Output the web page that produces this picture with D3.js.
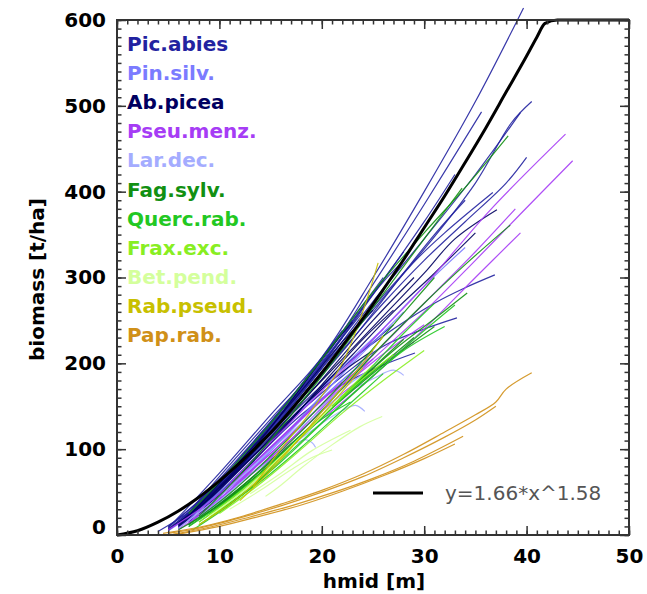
<!DOCTYPE html>
<html>
<head>
<meta charset="utf-8">
<script src="https://cdn.jsdelivr.net/npm/d3@7"></script>
<style>
  body { margin: 0; background: #fff; }
  text { font-family: "DejaVu Sans", sans-serif; }
</style>
</head>
<body>
<svg id="chart"></svg>
<script>
// species names as shown in the legend, and their colours
var species = ["Pic.abies", "Pin.silv.", "Ab.picea", "Pseu.menz.", "Lar.dec.", "Fag.sylv.",
               "Querc.rab.", "Frax.exc.", "Bet.pend.", "Rab.pseud.", "Pap.rab."];
var colors = ["#2222a0", "#7b7bff", "#000060", "#a63cf5", "#a4acff", "#129012",
              "#22c822", "#88ee22", "#d4ff9c", "#c8c000", "#d09018"];

// stand curves, [hmid, biomass]
var picAbies = [
  [[5,8],[10,72],[15,140],[20,207],[25,300],[30,400],[35,505],[39.7,614]],
  [[6,12],[10,68],[15,135],[20,202],[25,292],[30,385],[35.6,493]],
  [[7,20],[10,55],[15,120],[20,190],[25,265],[30,333],[35,410],[38.5,480],[40.5,505]],
  [[6,10],[10,58],[15,125],[20,195],[25,272],[30,345],[35,420],[39.4,492]],
  [[5,6],[10,60],[15,128],[20,198],[25,280],[30,365],[33,420]],
  [[6,8],[10,62],[15,130],[20,200],[24,265],[28,330]],
  [[5,5],[9,45],[13,95],[17,150],[21,208],[25,262],[29,318],[32,352],[36.7,399]],
  [[7,15],[11,60],[15,110],[19,160],[23,205],[27,240],[31,270],[34,288],[36.9,303]],
  [[6,10],[10,55],[14,100],[18,145],[22,185],[26,220],[30,240],[33.2,253]],
  [[6,8],[10,50],[14,95],[18,140],[22,175],[26,198],[29.1,212]],
  [[5,10],[9,50],[13,100],[17,155],[21,215],[24,260]],
  [[6,12],[10,65],[14,118],[18,175],[22,235],[26,295],[28,320]],
  [[8,30],[12,80],[16,140],[20,205],[23,250]],
  [[4,4],[8,35],[12,80],[16,135],[20,195]],
  [[7,18],[11,65],[15,118],[19,172],[23,228],[27,290],[31,350],[34,390]],
  [[6,10],[10,55],[14,105],[18,160],[22,215],[26,270],[30,320],[34,365],[38,410],[40,440]],
  [[9,40],[13,90],[17,140],[21,185],[25,225],[27,245]],
  [[5,9],[8,40],[11,76],[14,118],[17,160],[20,206],[23,250]],
  [[6,14],[9,48],[12,86],[15,130],[18,175],[21,222],[24,268],[26,300]],
  [[7,22],[10,60],[13,100],[16,144],[19,190],[22,238]],
  [[5,7],[8,36],[11,70],[14,110],[17,152],[20,198],[22,230]]
];
var pinSilv = [
  [[6,8],[10,50],[14,95],[18,145],[22,195],[26,240]],
  [[7,12],[11,55],[15,100],[19,150],[23,200],[28,260]],
  [[5,5],[9,38],[13,80],[17,125],[21,170],[24,200]],
  [[8,20],[12,62],[16,110],[20,162],[24,215],[30,290],[34,335]],
  [[9,30],[13,75],[17,122],[21,170],[25,210]]
];
var abPicea = [
  [[6,8],[10,55],[14,105],[18,155],[22,205],[26,255],[30,305],[33,345],[37.1,379]],
  [[7,12],[11,58],[15,108],[19,160],[23,210],[27,260],[31,305],[35,352]],
  [[5,6],[9,42],[13,88],[17,140],[21,195],[25,250],[29,300]],
  [[8,25],[12,70],[16,120],[20,175],[24,228],[27,262]],
  [[6,10],[10,60],[14,112],[18,168],[22,225],[25,262]],
  [[10,55],[14,100],[18,148],[22,190],[25,215]],
  [[6,12],[9,45],[12,82],[15,125],[18,172],[21,220],[23,248]]
];
var pseuMenz = [
  [[11,60],[15,108],[20,168],[25,228],[30,290],[36.4,378],[43.8,467]],
  [[12,62],[16,100],[20,148],[25,205],[30,260],[35,320],[39.4,374],[44.5,436]],
  [[10,45],[15,95],[20,152],[25,210],[30,270],[35,330],[38.9,380]],
  [[10,42],[15,88],[20,135],[25,185],[30,240],[35,300],[39.4,352]],
  [[5,6],[9,38],[13,80],[17,125],[21,168],[25,205]],
  [[6,8],[10,45],[14,90],[18,135],[22,178]],
  [[7,14],[11,52],[15,95],[19,140],[23,182],[27,220],[30,245]],
  [[6,6],[10,40],[14,80],[18,122],[22,165],[26,200],[29,225]]
];
var larDec = [
  [[8,20],[12,55],[16,95],[20,130],[22,145],[23.3,151],[24.2,144]],
  [[7,12],[10,40],[13,70],[16,95],[18.3,111],[19,108],[19.4,102]],
  [[9,30],[13,70],[17,115],[21,155],[25,182],[27,192],[28,186]],
  [[6,8],[10,45],[14,88],[18,130],[22,170],[25,195]]
];
var fagSylv = [
  [[7,25],[10,62],[15,130],[20,205],[25,283],[30,352],[33.8,402],[38.2,465]],
  [[8,22],[12,70],[16,125],[20,185],[25,265],[30,345],[33.7,404]],
  [[8,18],[12,55],[16,98],[20,145],[25,210],[30,270],[34,315],[38.4,361]],
  [[7,10],[11,45],[15,85],[19,128],[23,172],[27,215],[31,252],[34.2,282]],
  [[6,6],[10,35],[14,72],[18,115],[22,160],[26,200],[29,230]],
  [[9,25],[13,62],[17,105],[21,150],[25,195],[28,228]],
  [[7,12],[11,48],[15,92],[19,140],[23,190],[27,245],[31,300]],
  [[10,35],[14,72],[18,115],[22,158],[26,198],[31,243]]
];
var quercRab = [
  [[8,12],[12,45],[16,85],[20,130],[24,175],[28,215],[32,243]],
  [[7,10],[11,42],[15,82],[19,125],[23,170],[27,210]],
  [[9,20],[13,55],[17,98],[21,142],[25,185],[29,228],[33,268]],
  [[10,28],[14,62],[18,102],[22,145],[26,188]],
  [[8,15],[12,50],[16,92],[20,138],[24,185],[28,235],[31,270]],
  [[7.4,6],[11,35],[14,65],[17.6,112],[20,135],[22.8,155]]
];
var fraxExc = [
  [[8,15],[12,50],[16,92],[20,138],[24,182],[27,210]],
  [[9,20],[13,58],[17,102],[21,150],[25,198]],
  [[10,25],[14,60],[18,100],[22,142],[26,180],[30,215]]
];
var betPend = [
  [[14.5,45],[16,58],[18,78],[21,105],[23.7,126],[25.9,138]],
  [[11,30],[14,52],[17,76],[19,90],[21,99]],
  [[13,48],[16,72],[19,98],[22.8,122]],
  [[9,22],[12,48],[15,80],[18,115],[21,150]]
];
var robPseud = [
  [[13.3,56],[16,100],[19,145],[22,200],[24,260],[25.5,317]],
  [[12,40],[15,75],[18,115],[21,158],[24,200],[26,232]],
  [[8,12],[12,45],[16,90],[20,140],[24,195]]
];
var popRob = [
  [[4.5,2],[8,9],[12,21],[16,36],[20,52],[24,71],[28,94],[32,120],[35,140],[37,155],[38,170],[40.5,189]],
  [[5,2],[8,8],[12,20],[16,34],[20,50],[24,68],[28,90],[32,114],[35,134],[37,150]],
  [[5.5,1],[9,9],[13,21],[17,34],[21,49],[25,66],[29,86],[33.8,115]],
  [[6,1],[10,10],[14,22],[18,35],[22,51],[26,69],[30,89],[33,106]]
];
var groups = [picAbies, pinSilv, abPicea, pseuMenz, larDec, fagSylv,
              quercRab, fraxExc, betPend, robPseud, popRob];

// reference fit y=1.66*x^1.58, capped at 600
var fitCurve = [[0,0],[2,5],[4,15],[6,28],[8,44],[10,63],[12,84],[14,107],[16,132],[18,160],
  [20,189],[22,220],[24,252],[26,286],[28,321],[30,358],[32,395],[34,434],[36,474],[38,516],
  [40,558],[41,580],[41.8,596],[43,600],[50,600]];

var xTicks = [0, 10, 20, 30, 40, 50];
var yTicks = [0, 100, 200, 300, 400, 500, 600];

var W = 647, H = 594;
var margin = {top: 20, right: 18, bottom: 59, left: 117};

var svg = d3.select("#chart").attr("width", W).attr("height", H);

var x = d3.scaleLinear().domain([0, 50]).range([margin.left, W - margin.right]);
var y = d3.scaleLinear().domain([0, 600]).range([H - margin.bottom, margin.top]);

var line = d3.line()
    .x(function(d) { return x(d[0]); })
    .y(function(d) { return y(d[1]); })
    .curve(d3.curveCatmullRom.alpha(0.5));

// stand lines
groups.forEach(function(g, i) {
    svg.append("g")
        .selectAll("path")
        .data(g)
        .enter()
        .append("path")
        .attr("d", line)
        .attr("fill", "none")
        .attr("stroke", colors[i])
        .attr("stroke-width", 1.2)
        .attr("opacity", 0.9);
});

// fit curve
svg.append("path")
    .datum(fitCurve)
    .attr("d", line.curve(d3.curveMonotoneX))
    .attr("fill", "none")
    .attr("stroke", "#000")
    .attr("stroke-width", 3);

// axes, ticks pointing inward on all four sides
function styleAxis(g) {
    g.select(".domain").remove();
    g.selectAll(".tick line").attr("stroke", "#333").attr("stroke-width", 1.5);
    g.selectAll("text")
        .style("font-size", "20px")
        .style("font-weight", "bold")
        .attr("fill", "#000");
}
var xMinor = d3.range(0, 51, 1), yMinor = d3.range(0, 601, 10);

svg.append("g").attr("transform", "translate(0," + y(0) + ")")
    .call(d3.axisBottom(x).tickValues(xMinor).tickSize(-4.5).tickFormat(""))
    .call(styleAxis);
svg.append("g").attr("transform", "translate(0," + y(0) + ")")
    .call(d3.axisBottom(x).tickValues(xTicks).tickSize(-9).tickPadding(14).tickFormat(d3.format("d")))
    .call(styleAxis);
svg.append("g").attr("transform", "translate(0," + y(600) + ")")
    .call(d3.axisTop(x).tickValues(xMinor).tickSize(-4.5).tickFormat(""))
    .call(styleAxis);
svg.append("g").attr("transform", "translate(0," + y(600) + ")")
    .call(d3.axisTop(x).tickValues(xTicks).tickSize(-9).tickFormat(""))
    .call(styleAxis);

svg.append("g").attr("transform", "translate(" + x(0) + ",0)")
    .call(d3.axisLeft(y).tickValues(yMinor).tickSize(-4.5).tickFormat(""))
    .call(styleAxis);
var yAx = svg.append("g").attr("transform", "translate(" + x(0) + ",0)")
    .call(d3.axisLeft(y).tickValues(yTicks).tickSize(-9).tickPadding(11).tickFormat(d3.format("d")))
    .call(styleAxis);
yAx.selectAll(".tick text").filter(function(d) { return d === 0; }).attr("y", -8);
svg.append("g").attr("transform", "translate(" + x(50) + ",0)")
    .call(d3.axisRight(y).tickValues(yMinor).tickSize(-4.5).tickFormat(""))
    .call(styleAxis);
svg.append("g").attr("transform", "translate(" + x(50) + ",0)")
    .call(d3.axisRight(y).tickValues(yTicks).tickSize(-9).tickFormat(""))
    .call(styleAxis);

// frame
svg.append("rect")
    .attr("x", x(0)).attr("y", y(600))
    .attr("width", x(50) - x(0)).attr("height", y(0) - y(600))
    .attr("fill", "none").attr("stroke", "#333").attr("stroke-width", 2);

// axis titles
svg.append("text")
    .attr("x", (x(0) + x(50)) / 2 + 1).attr("y", 588)
    .attr("text-anchor", "middle")
    .style("font-size", "20px").style("font-weight", "bold")
    .text("hmid [m]");
svg.append("text")
    .attr("transform", "translate(44," + ((y(0) + y(600)) / 2 + 2) + ") rotate(-90)")
    .attr("text-anchor", "middle")
    .style("font-size", "20px").style("font-weight", "bold")
    .text("biomass [t/ha]");

// species legend
svg.append("g").selectAll("text")
    .data(species)
    .enter()
    .append("text")
    .attr("x", 127)
    .attr("y", function(d, i) { return 51 + i * 29.1; })
    .attr("fill", function(d, i) { return colors[i]; })
    .style("font-size", "20px").style("font-weight", "bold")
    .text(function(d) { return d; });

// fit legend
svg.append("line")
    .attr("x1", 373).attr("x2", 423).attr("y1", 493).attr("y2", 493)
    .attr("stroke", "#000").attr("stroke-width", 3);
svg.append("text")
    .attr("x", 445).attr("y", 500)
    .attr("fill", "#555")
    .style("font-size", "20px")
    .text("y=1.66*x^1.58");
</script>
</body>
</html>
